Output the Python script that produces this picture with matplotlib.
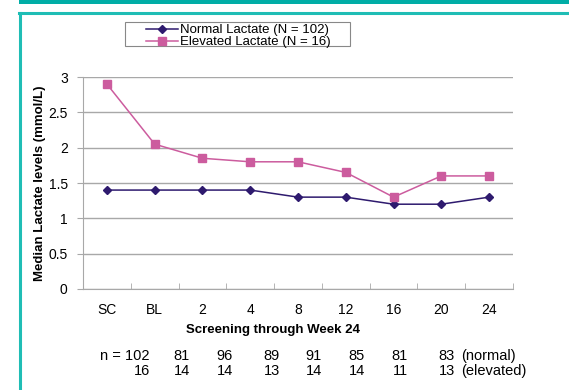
import matplotlib

matplotlib.use("Agg")
import matplotlib.pyplot as plt
from matplotlib.lines import Line2D
from matplotlib.patches import Rectangle

plt.rcParams["font.family"] = ["Liberation Sans", "DejaVu Sans"]

visits = ["SC", "BL", "2", "4", "8", "12", "16", "20", "24"]
normal_lactate = [1.4, 1.4, 1.4, 1.4, 1.3, 1.3, 1.2, 1.2, 1.3]
elevated_lactate = [2.9, 2.05, 1.85, 1.8, 1.8, 1.65, 1.3, 1.6, 1.6]
n_normal = ["n = 102", "81", "96", "89", "91", "85", "81", "83"]
n_elevated = ["16", "14", "14", "13", "14", "14", "11", "13"]

NAVY = "#2E1A6E"
PINK = "#CC5C9E"
TEAL = "#00ADA6"
GRID = "#A8A8A8"

W, H = 569, 390
fig = plt.figure(figsize=(W / 100, H / 100), dpi=100)

# decorative teal bar and frame
fig.patches.append(Rectangle((19 / W, 1 - 4 / H), 1, 4 / H, transform=fig.transFigure,
                             color=TEAL, lw=0))
fig.add_artist(Line2D([20 / W, 20 / W], [0, 1 - 13 / H], transform=fig.transFigure,
                      color="#1FBDB5", lw=2.2))
fig.add_artist(Line2D([19 / W, 1], [1 - 13 / H, 1 - 13 / H], transform=fig.transFigure,
                      color="#1FBDB5", lw=2.2))

ax = fig.add_axes([83 / W, 1 - 289 / H, 430 / W, 212 / H])
x = list(range(len(visits)))
ax.plot(x, normal_lactate, color=NAVY, lw=1.1, marker="D", markersize=4,
        label="Normal Lactate (N = 102)")
ax.plot(x, elevated_lactate, color=PINK, lw=1.1, marker="s", markersize=5.5,
        label="Elevated Lactate (N = 16)")

ax.set_xlim(-0.5, len(visits) - 0.5)
ax.set_ylim(0, 3)
ax.set_yticks([0, 0.5, 1, 1.5, 2, 2.5, 3])
ax.set_yticklabels(["0", "0.5", "1", "1.5", "2", "2.5", "3"], fontsize=10)
ax.set_xticks(x)
ax.set_xticklabels(visits, fontsize=10)
ax.set_xticks([i - 0.5 for i in range(len(visits) + 1)], minor=True)
ax.tick_params(axis="x", which="major", length=0, pad=10)
ax.tick_params(axis="x", which="minor", length=4, color=GRID, direction="in")
ax.tick_params(axis="y", length=4, color=GRID, direction="out", pad=7)
ax.grid(axis="y", color=GRID, lw=1)
for side in ("top", "right"):
    ax.spines[side].set_visible(False)
ax.spines["left"].set_color(GRID)
ax.spines["bottom"].set_color(GRID)
ax.set_axisbelow(True)

ax.set_ylabel("Median Lactate levels (mmol/L)", fontsize=9.5, fontweight="bold", labelpad=2)

# legend box drawn by hand (Excel style, wide padding)
fig.patches.append(Rectangle((125 / W, 1 - 46 / H), 225 / W, 24 / H, transform=fig.transFigure,
                             facecolor="white", edgecolor="#888888", lw=0.8))
fig.legend(loc="upper left", bbox_to_anchor=(146 / W, 1 - 24 / H), fontsize=9.5,
           frameon=False, borderpad=0, handlelength=2.4, handletextpad=0.2,
           labelspacing=0.0, borderaxespad=0)

fig.text(273 / W, 1 - 330 / H, "Screening through Week 24", fontsize=9.5, fontweight="bold",
         ha="center", va="center")

col_x = [150, 190, 233, 280, 322, 365, 408, 455]
for cx, a, b in zip(col_x, n_normal, n_elevated):
    fig.text(cx / W, 1 - 356 / H, a, fontsize=10.5, ha="right", va="center")
    fig.text(cx / W, 1 - 371 / H, b, fontsize=10.5, ha="right", va="center")
fig.text(461 / W, 1 - 356 / H, "(normal)", fontsize=10.5, ha="left", va="center")
fig.text(461 / W, 1 - 371 / H, "(elevated)", fontsize=10.5, ha="left", va="center")

fig.savefig("out.png", dpi=100)
